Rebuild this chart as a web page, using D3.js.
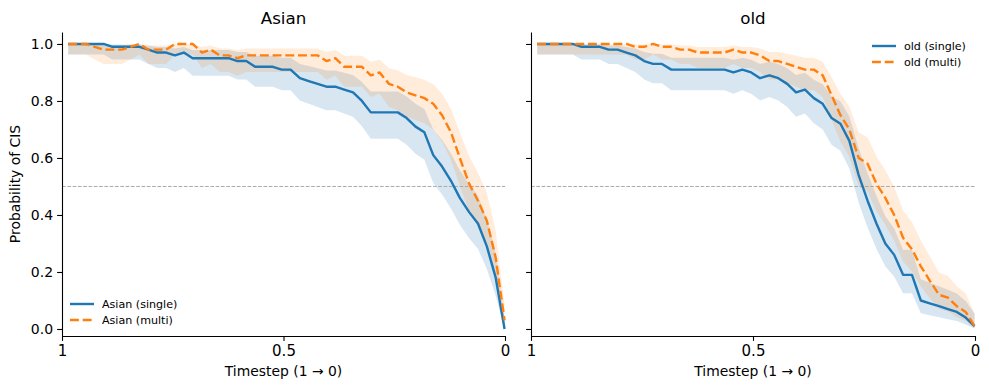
<!DOCTYPE html>
<html>
<head>
<meta charset="utf-8">
<script src="https://cdn.jsdelivr.net/npm/d3@7"></script>
<style>
  body { margin: 0; background: #fff; }
  text { font-family: "DejaVu Sans", sans-serif; }
</style>
</head>
<body>
<div id="chart"></div>
<script>
// timesteps (x) and probability of CIS per panel / mode
var timesteps = [0.986, 0.966, 0.946, 0.926, 0.906, 0.886, 0.865, 0.845, 0.825, 0.805,
  0.785, 0.765, 0.745, 0.725, 0.705, 0.684, 0.664, 0.644, 0.624, 0.604,
  0.584, 0.564, 0.544, 0.524, 0.504, 0.484, 0.463, 0.443, 0.423, 0.403,
  0.383, 0.363, 0.343, 0.323, 0.303, 0.283, 0.262, 0.242, 0.222, 0.202,
  0.182, 0.162, 0.142, 0.122, 0.102, 0.081, 0.061, 0.041, 0.021, 0.001];

var asianSingle = [1, 1, 1, 1, 1, 0.99, 0.99, 0.99, 0.99, 0.98,
  0.97, 0.97, 0.96, 0.97, 0.95, 0.95, 0.95, 0.95, 0.95, 0.94,
  0.94, 0.92, 0.92, 0.92, 0.91, 0.91, 0.88, 0.87, 0.86, 0.85,
  0.85, 0.84, 0.83, 0.80, 0.76, 0.76, 0.76, 0.76, 0.74, 0.71,
  0.69, 0.61, 0.57, 0.52, 0.46, 0.41, 0.37, 0.29, 0.18, 0.00];
var asianMulti = [1, 1, 1, 0.99, 0.98, 0.98, 0.98, 0.99, 1, 0.98,
  0.98, 0.98, 1, 1, 1, 0.97, 0.98, 0.96, 0.96, 0.95,
  0.96, 0.96, 0.96, 0.96, 0.96, 0.96, 0.96, 0.96, 0.96, 0.94,
  0.95, 0.92, 0.92, 0.92, 0.89, 0.90, 0.86, 0.85, 0.83, 0.82,
  0.81, 0.79, 0.75, 0.69, 0.60, 0.51, 0.45, 0.38, 0.25, 0.03];
var oldSingle = [1, 1, 1, 1, 1, 0.99, 0.99, 0.99, 0.98, 0.98,
  0.97, 0.96, 0.94, 0.93, 0.93, 0.91, 0.91, 0.91, 0.91, 0.91,
  0.91, 0.91, 0.90, 0.91, 0.90, 0.88, 0.89, 0.88, 0.86, 0.83,
  0.84, 0.81, 0.79, 0.74, 0.72, 0.66, 0.54, 0.45, 0.37, 0.30,
  0.26, 0.19, 0.19, 0.10, 0.09, 0.08, 0.07, 0.06, 0.04, 0.01];
var oldMulti = [1, 1, 1, 1, 1, 1, 1, 1, 1, 1,
  1, 0.99, 0.99, 1, 0.99, 0.99, 0.98, 0.98, 0.97, 0.97,
  0.97, 0.97, 0.98, 0.97, 0.97, 0.96, 0.94, 0.94, 0.93, 0.92,
  0.91, 0.91, 0.89, 0.82, 0.75, 0.70, 0.60, 0.58, 0.51, 0.46,
  0.40, 0.32, 0.28, 0.22, 0.17, 0.12, 0.11, 0.08, 0.06, 0.01];

var nSamples = 100;   // samples per timestep, used for the 95% Wilson band
var yTicks = [0, 0.2, 0.4, 0.6, 0.8, 1.0];
var xTicks = [1, 0.5, 0];
var xTickLabels = ["1", "0.5", "0"];

var panels = [
  {title: "Asian", single: asianSingle, multi: asianMulti, x0: 62, x1: 505, showY: true,
   legend: {x: 70, y: 304}},
  {title: "old", single: oldSingle, multi: oldMulti, x0: 531, x1: 975, showY: false,
   legend: {x: 872, y: 46}}
];

var W = 989, H = 390, plotTop = 32, plotBottom = 336;
var blue = "#1f77b4", orange = "#ff7f0e";
var lw = 2.4;

var svg = d3.select("#chart").append("svg")
  .attr("width", W)
  .attr("height", H);

var y = d3.scaleLinear().domain([-0.0246, 1.042]).range([plotBottom, plotTop]);

// Wilson score interval
function wilson(p, n) {
  var z = 1.96, d = 1 + z * z / n;
  var c = (p + z * z / (2 * n)) / d;
  var h = z * Math.sqrt(p * (1 - p) / n + z * z / (4 * n * n)) / d;
  return [Math.max(0, c - h), Math.min(1, c + h)];
}

panels.forEach(function(p) {
  var x = d3.scaleLinear().domain([1, 0]).range([p.x0, p.x1]);
  var g = svg.append("g");

  var series = [
    {vals: p.single, color: blue, alpha: 0.18, dash: null, label: p.title + " (single)"},
    {vals: p.multi, color: orange, alpha: 0.15, dash: "8.9,3.8", label: p.title + " (multi)"}
  ];

  // bands
  series.forEach(function(s) {
    var pts = timesteps.map(function(t, i) { var w = wilson(s.vals[i], nSamples); return {t: t, lo: w[0], hi: w[1]}; });
    g.append("path")
      .datum(pts)
      .attr("fill", s.color)
      .attr("fill-opacity", s.alpha)
      .attr("d", d3.area()
        .x(function(d) { return x(d.t); })
        .y0(function(d) { return y(d.lo); })
        .y1(function(d) { return y(d.hi); }));
  });

  // 0.5 reference
  g.append("line")
    .attr("x1", p.x0).attr("x2", p.x1)
    .attr("y1", y(0.5)).attr("y2", y(0.5))
    .attr("stroke", "#aaaaaa")
    .attr("stroke-width", 1)
    .attr("stroke-dasharray", "3.7,1.6");

  // lines
  series.forEach(function(s) {
    g.append("path")
      .datum(s.vals)
      .attr("fill", "none")
      .attr("stroke", s.color)
      .attr("stroke-width", lw)
      .attr("stroke-linejoin", "round")
      .attr("stroke-dasharray", s.dash)
      .attr("d", d3.line()
        .x(function(d, i) { return x(timesteps[i]); })
        .y(function(d) { return y(d); }));
  });

  // axes
  var ya = g.append("g")
    .attr("transform", "translate(" + p.x0 + ",0)")
    .call(d3.axisLeft(y).tickValues(yTicks).tickSize(4.9).tickSizeOuter(0).tickPadding(4)
      .tickFormat(p.showY ? d3.format(".1f") : ""));
  var xa = g.append("g")
    .attr("transform", "translate(0," + plotBottom + ")")
    .call(d3.axisBottom(x).tickValues(xTicks).tickSize(4.9).tickSizeOuter(0).tickPadding(4)
      .tickFormat(function(d, i) { return xTickLabels[i]; }));
  [ya, xa].forEach(function(a) {
    a.selectAll("path, line").attr("stroke", "#000").attr("stroke-width", 1.1);
    a.selectAll("text").attr("fill", "#000").style("font-family", "DejaVu Sans");
  });
  ya.selectAll("text").style("font-size", "14px");
  xa.selectAll("text").style("font-size", "15px");

  // title and x label
  var cx = (p.x0 + p.x1) / 2;
  g.append("text").attr("x", cx).attr("y", 24).attr("text-anchor", "middle")
    .style("font-size", "16.7px").text(p.title);
  g.append("text").attr("x", cx).attr("y", 376).attr("text-anchor", "middle")
    .style("font-size", "13.9px").text("Timestep (1 \u2192 0)");

  // legend
  series.forEach(function(s, i) {
    var ly = p.legend.y + i * 16;
    g.append("line")
      .attr("x1", p.legend.x).attr("x2", p.legend.x + 24)
      .attr("y1", ly).attr("y2", ly)
      .attr("stroke", s.color).attr("stroke-width", lw)
      .attr("stroke-dasharray", s.dash);
    g.append("text")
      .attr("x", p.legend.x + 32).attr("y", ly)
      .attr("dominant-baseline", "central")
      .style("font-size", "11.1px")
      .text(s.label);
  });
});

// y label
svg.append("text")
  .attr("transform", "translate(20," + ((plotTop + plotBottom) / 2) + ") rotate(-90)")
  .attr("text-anchor", "middle")
  .style("font-size", "13.9px")
  .text("Probability of CIS");
</script>
</body>
</html>
